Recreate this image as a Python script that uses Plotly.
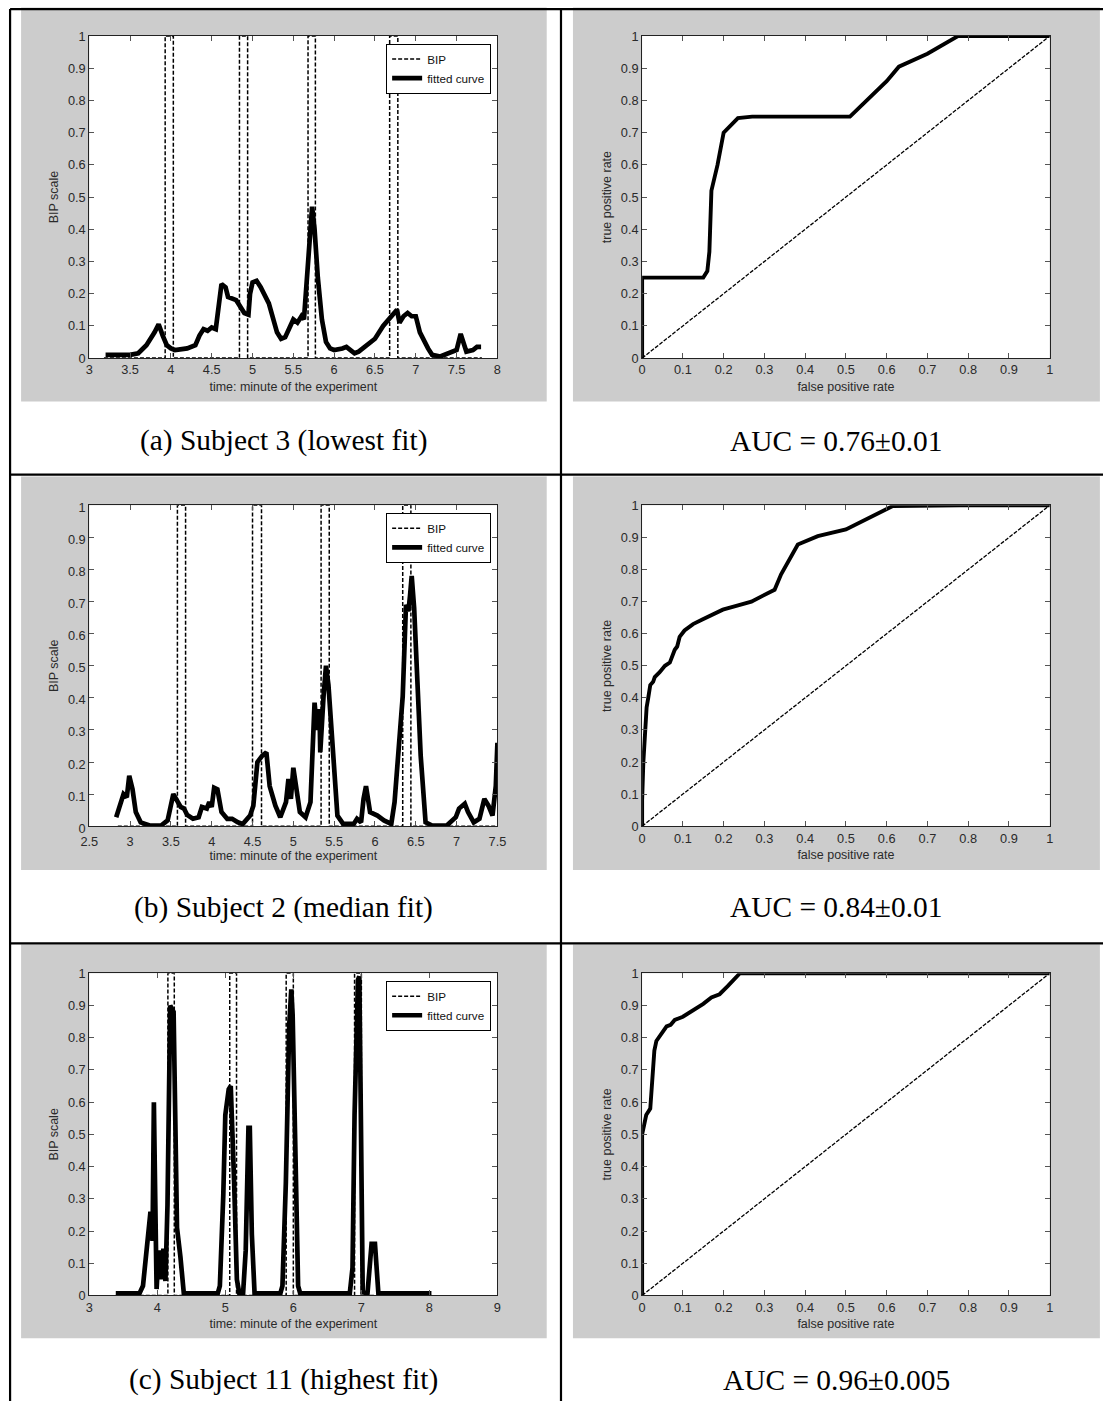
import plotly.graph_objects as go

W, H = 1112, 1410
# The page is photographed with the default 8 px body margin and a small
# downscale; SX/SY/OFF convert target page pixels into figure pixels.
OFF = 8
SX = (W + 2 * OFF) / W
SY = (H + 2 * OFF) / H

# ---------------- data ----------------
# Subject 3 (lowest fit): fitted BIP curve
s3_t = [3.2, 3.5, 3.6, 3.7, 3.8, 3.85, 3.9, 3.95, 4.0, 4.05, 4.2, 4.3, 4.35, 4.4, 4.45, 4.5,
        4.55, 4.58, 4.62, 4.67, 4.7, 4.8, 4.85, 4.9, 4.95, 4.97, 5.0, 5.05, 5.1, 5.2, 5.3,
        5.35, 5.4, 5.45, 5.5, 5.55, 5.6, 5.63, 5.7, 5.73, 5.76, 5.8, 5.85, 5.9, 5.95, 6.0,
        6.1, 6.15, 6.2, 6.25, 6.3, 6.4, 6.5, 6.6, 6.7, 6.77, 6.8, 6.85, 6.9, 6.95, 7.0,
        7.05, 7.15, 7.2, 7.3, 7.4, 7.5, 7.55, 7.58, 7.62, 7.7, 7.75, 7.8]
s3_fit = [0.01, 0.01, 0.015, 0.04, 0.08, 0.105, 0.07, 0.04, 0.03, 0.025, 0.03, 0.04, 0.07, 0.09,
          0.085, 0.095, 0.09, 0.15, 0.23, 0.22, 0.19, 0.18, 0.16, 0.14, 0.135, 0.2, 0.235, 0.24,
          0.22, 0.17, 0.08, 0.06, 0.065, 0.09, 0.12, 0.11, 0.13, 0.12, 0.35, 0.47, 0.40, 0.25,
          0.12, 0.05, 0.03, 0.025, 0.03, 0.035, 0.025, 0.015, 0.02, 0.04, 0.06, 0.10, 0.13,
          0.15, 0.11, 0.13, 0.14, 0.13, 0.13, 0.08, 0.03, 0.01, 0.005, 0.015, 0.025, 0.075,
          0.05, 0.02, 0.025, 0.035, 0.035]
s3_bip_span = [3.18, 7.81]
s3_bip_on = [3.93, 4.84, 5.68, 6.68]
s3_bip_off = [4.03, 4.94, 5.77, 6.78]

# Subject 2 (median fit)
s2_t = [2.83, 2.87, 2.92, 2.96, 2.99, 3.03, 3.07, 3.13, 3.24, 3.38, 3.46, 3.53, 3.57, 3.62,
        3.66, 3.70, 3.77, 3.84, 3.88, 3.94, 3.97, 4.0, 4.03, 4.07, 4.12, 4.19, 4.25, 4.32,
        4.38, 4.47, 4.51, 4.56, 4.62, 4.67, 4.71, 4.78, 4.84, 4.91, 4.94, 4.97, 5.0, 5.04,
        5.08, 5.15, 5.21, 5.26, 5.29, 5.32, 5.33, 5.37, 5.40, 5.43, 5.5, 5.54, 5.61, 5.74,
        5.78, 5.83, 5.86, 5.89, 5.94, 6.03, 6.11, 6.2, 6.24, 6.30, 6.34, 6.38, 6.41, 6.43,
        6.45, 6.48, 6.52, 6.56, 6.62, 6.7, 6.88, 6.94, 6.99, 7.03, 7.1, 7.14, 7.21, 7.28,
        7.34, 7.39, 7.44, 7.48, 7.5]
s2_fit = [0.028, 0.064, 0.1, 0.09, 0.157, 0.115, 0.044, 0.012, 0.002, 0.002, 0.018, 0.1,
          0.085, 0.06, 0.055, 0.035, 0.023, 0.028, 0.06, 0.055, 0.075, 0.06, 0.12, 0.115,
          0.044, 0.023, 0.023, 0.012, 0.007, 0.033, 0.064, 0.2, 0.22, 0.23, 0.125, 0.064,
          0.028, 0.075, 0.147, 0.085, 0.182, 0.115, 0.044, 0.028, 0.075, 0.385, 0.3, 0.365,
          0.23, 0.405, 0.5, 0.44, 0.18, 0.033, 0.007, 0.007, 0.023, 0.012, 0.085, 0.125,
          0.044, 0.033, 0.018, 0.007, 0.075, 0.26, 0.405, 0.69, 0.67, 0.72, 0.78, 0.68, 0.47,
          0.22, 0.012, 0.002, 0.002, 0.018, 0.028, 0.055, 0.07, 0.044, 0.012, 0.023, 0.085,
          0.064, 0.033, 0.125, 0.26]
s2_bip_span = [2.85, 7.5]
s2_bip_on = [3.58, 4.50, 5.34, 6.34]
s2_bip_off = [3.68, 4.61, 5.44, 6.44]

# Subject 11 (highest fit)
s11_t = [3.39, 3.74, 3.79, 3.84, 3.87, 3.9, 3.93, 3.95, 3.97, 3.99, 4.02, 4.06, 4.09, 4.12,
         4.15, 4.17, 4.19, 4.24, 4.26, 4.29, 4.34, 4.39, 4.89, 4.92, 4.97, 5.0, 5.05, 5.08,
         5.13, 5.17, 5.21, 5.26, 5.3, 5.34, 5.36, 5.39, 5.43, 5.81, 5.84, 5.89, 5.94, 5.97,
         5.99, 6.03, 6.07, 6.1, 6.83, 6.87, 6.9, 6.95, 6.97, 6.99, 7.02, 7.09, 7.15, 7.2,
         7.25, 8.03]
s11_fit = [0.007, 0.007, 0.03, 0.14, 0.2, 0.26, 0.17, 0.6, 0.3, 0.02, 0.14, 0.05, 0.145,
           0.045, 0.28, 0.66, 0.9, 0.88, 0.56, 0.21, 0.12, 0.007, 0.007, 0.03, 0.31, 0.56,
           0.64, 0.65, 0.35, 0.05, 0.002, 0.002, 0.14, 0.52, 0.52, 0.19, 0.007, 0.007, 0.03,
           0.35, 0.84, 0.95, 0.87, 0.45, 0.03, 0.007, 0.007, 0.086, 0.56, 0.98, 0.99, 0.61,
           0.01, 0.007, 0.16, 0.16, 0.007, 0.007]
s11_bip_span = [3.39, 8.03]
s11_bip_on = [4.156, 5.065, 5.895, 6.9]
s11_bip_off = [4.25, 5.165, 6.0, 7.0]

# ROC curves
roc3_fpr = [0, 0, 0.15, 0.16, 0.165, 0.17, 0.185, 0.2, 0.235, 0.27, 0.51, 0.535, 0.56, 0.6,
            0.63, 0.7, 0.775, 1.0]
roc3_tpr = [0, 0.25, 0.25, 0.27, 0.33, 0.52, 0.6, 0.7, 0.745, 0.75, 0.75, 0.78, 0.81, 0.86,
            0.905, 0.945, 1.0, 1.0]
roc2_fpr = [0, 0, 0.003, 0.0065, 0.011, 0.015, 0.02, 0.027, 0.031, 0.043, 0.056, 0.068, 0.08,
            0.086, 0.092, 0.104, 0.125, 0.149, 0.198, 0.231, 0.268, 0.325, 0.341, 0.382,
            0.431, 0.5, 0.549, 0.615, 0.78, 1.0]
roc2_tpr = [0, 0.08, 0.2, 0.29, 0.37, 0.4, 0.44, 0.45, 0.465, 0.48, 0.5, 0.51, 0.55, 0.56,
            0.59, 0.61, 0.63, 0.645, 0.675, 0.687, 0.70, 0.737, 0.785, 0.878, 0.904, 0.925,
            0.956, 0.998, 1.0, 1.0]
roc11_fpr = [0, 0, 0.005, 0.01, 0.02, 0.025, 0.03, 0.035, 0.045, 0.06, 0.07, 0.08, 0.1, 0.12,
             0.15, 0.17, 0.19, 0.21, 0.23, 0.24, 1.0]
roc11_tpr = [0, 0.5, 0.53, 0.56, 0.58, 0.66, 0.76, 0.79, 0.81, 0.835, 0.84, 0.855, 0.865,
             0.88, 0.905, 0.925, 0.935, 0.96, 0.985, 1.0, 1.0]
chance = [0, 1]

captions_left = ["(a) Subject 3 (lowest fit)", "(b) Subject 2 (median fit)",
                 "(c) Subject 11 (highest fit)"]
captions_right = ["AUC = 0.76\u00b10.01", "AUC = 0.84\u00b10.01", "AUC = 0.96\u00b10.005"]
time_ranges = [[3, 8], [2.5, 7.5], [3, 9]]
time_dticks = [0.5, 0.5, 1]


def bip_steps(span, onsets, offsets):
    """Rectangular BIP indicator (0 outside intervals, 1 inside)."""
    xs, ys = [span[0]], [0]
    for a, b in zip(onsets, offsets):
        xs += [a, a, b, b]
        ys += [0, 1, 1, 0]
    xs.append(span[1])
    ys.append(0)
    return xs, ys


def axid(letter, n):
    """Plotly axis id: 'x', 'x2', ..."""
    return letter if n == 1 else f"{letter}{n}"


subjects = [
    (s3_t, s3_fit, s3_bip_span, s3_bip_on, s3_bip_off, roc3_fpr, roc3_tpr),
    (s2_t, s2_fit, s2_bip_span, s2_bip_on, s2_bip_off, roc2_fpr, roc2_tpr),
    (s11_t, s11_fit, s11_bip_span, s11_bip_on, s11_bip_off, roc11_fpr, roc11_tpr),
]

# ---------------- layout geometry (page pixels) ----------------
left_plot = (88.3, 497.3)
right_plot = (642.3, 1050.7)
row_plot = [(36.0, 358.3), (505.7, 826.8), (974.0, 1296.5)]
left_panel = (20.0, 546.7)
right_panel = (573.0, 1101.0)
row_panel = [(7.3, 401.7), (476.7, 870.7), (945.3, 1339.3)]
caption_y = [441.0, 908.0, 1381.0]


def px(x):
    return (x * SX - OFF) / W


def py(y):
    return 1 - (y * SY - OFF) / H


def fs(size):
    return round(size * SX, 2)


fig = go.Figure()
layout = dict(
    width=W, height=H, margin=dict(l=0, r=0, t=0, b=0),
    paper_bgcolor="white", plot_bgcolor="white", showlegend=True,
)
shapes = []
annotations = []

sans = "Liberation Sans, Arial, sans-serif"
tick_font = dict(family=sans, size=fs(12.6), color="#2a2a2a")
title_font = dict(family=sans, size=fs(12.3), color="#2a2a2a")
ax_common = dict(
    showline=True, linecolor="#222222", linewidth=1, mirror="ticks",
    ticks="inside", ticklen=5, tickcolor="#555555", tickwidth=1,
    showgrid=False, zeroline=False, tickfont=tick_font, fixedrange=True,
)

legend_names = ["legend", "legend2", "legend3"]

for r, (t, fit, span, on, off, fpr, tpr) in enumerate(subjects):
    nl, nr = 2 * r + 1, 2 * r + 2
    xl, yl = axid("x", nl), axid("y", nl)
    xr, yr = axid("x", nr), axid("y", nr)
    top, bot = row_plot[r]
    leg = legend_names[r]

    # left: BIP and fitted curve over time
    bx, by = bip_steps(span, on, off)
    fig.add_trace(go.Scatter(
        x=bx, y=by, mode="lines", name="BIP", legend=leg,
        line=dict(color="black", width=1.5, dash="4px,2px"),
        xaxis=xl, yaxis=yl,
    ))
    fig.add_trace(go.Scatter(
        x=t, y=fit, mode="lines", name="fitted curve", legend=leg,
        line=dict(color="black", width=4.7),
        xaxis=xl, yaxis=yl,
    ))
    # right: ROC curve and chance diagonal
    fig.add_trace(go.Scatter(
        x=chance, y=chance, mode="lines", showlegend=False,
        line=dict(color="black", width=1.3, dash="4px,1.5px"),
        xaxis=xr, yaxis=yr,
    ))
    fig.add_trace(go.Scatter(
        x=fpr, y=tpr, mode="lines", showlegend=False,
        line=dict(color="black", width=3.9),
        xaxis=xr, yaxis=yr,
    ))

    ydom = [py(bot), py(top)]
    lo, hi = time_ranges[r]
    # a half-tick start value ("2.5") sits right under the "0" label: nudge both apart
    crowded = lo != int(lo)
    layout["xaxis" + ("" if nl == 1 else str(nl))] = dict(
        ax_common, domain=[px(left_plot[0]), px(left_plot[1])], range=[lo, hi],
        tick0=lo, dtick=time_dticks[r], anchor=yl,
        ticklabelstandoff=3 if crowded else 0,
        title=dict(text="time: minute of the experiment", font=title_font,
                   standoff=2 if crowded else 5),
    )
    layout["yaxis" + ("" if nl == 1 else str(nl))] = dict(
        ax_common, domain=ydom, range=[0, 1], tick0=0, dtick=0.1, anchor=xl,
        ticklabelshift=2 if crowded else 0,
        title=dict(text="BIP scale", font=title_font, standoff=6),
    )
    layout[f"xaxis{nr}"] = dict(
        ax_common, domain=[px(right_plot[0]), px(right_plot[1])], range=[0, 1],
        tick0=0, dtick=0.1, anchor=yr,
        title=dict(text="false positive rate", font=title_font, standoff=5),
    )
    layout[f"yaxis{nr}"] = dict(
        ax_common, domain=ydom, range=[0, 1], tick0=0, dtick=0.1, anchor=xr,
        title=dict(text="true positive rate", font=title_font, standoff=6),
    )

    layout[leg] = dict(
        x=px(491), y=py(top + 7.5), xanchor="right", yanchor="top",
        bgcolor="white", bordercolor="black", borderwidth=1,
        font=dict(family=sans, size=fs(11.5), color="#111111"),
        tracegroupgap=0, itemwidth=30,
    )

    # grey figure panels
    for (x0, x1) in (left_panel, right_panel):
        y0, y1 = row_panel[r]
        shapes.append(dict(
            type="rect", xref="paper", yref="paper", layer="below",
            x0=px(x0), x1=px(x1), y0=py(y1), y1=py(y0),
            fillcolor="#cccccc", line=dict(width=0),
        ))
    # white axes backgrounds
    for xa, ya in ((xl, yl), (xr, yr)):
        shapes.append(dict(
            type="rect", xref=f"{xa} domain", yref=f"{ya} domain", layer="below",
            x0=0, x1=1, y0=0, y1=1, fillcolor="white", line=dict(width=0),
        ))

    # captions
    cap_font = dict(family="Liberation Serif, Times New Roman, serif", size=fs(29),
                    color="black")
    annotations.append(dict(
        text=captions_left[r], xref="paper", yref="paper", showarrow=False,
        x=px((left_panel[0] + left_panel[1]) / 2), y=py(caption_y[r]),
        xanchor="center", yanchor="middle", font=cap_font,
    ))
    annotations.append(dict(
        text=captions_right[r], xref="paper", yref="paper", showarrow=False,
        x=px((right_panel[0] + right_panel[1]) / 2), y=py(caption_y[r]),
        xanchor="center", yanchor="middle", font=cap_font,
    ))

# table rules; the outer ones sit at the figure's own edge
rule = dict(color="black", width=2.2)
ex, ey = 1.1 / W, 1 - 1.1 / H
shapes.append(dict(type="line", xref="paper", yref="paper",
                   x0=ex, x1=ex, y0=0, y1=ey, line=rule))
shapes.append(dict(type="line", xref="paper", yref="paper",
                   x0=px(561), x1=px(561), y0=0, y1=ey, line=rule))
shapes.append(dict(type="line", xref="paper", yref="paper",
                   x0=ex, x1=1, y0=ey, y1=ey, line=rule))
for yline in (475, 944):
    shapes.append(dict(type="line", xref="paper", yref="paper",
                       x0=ex, x1=1, y0=py(yline), y1=py(yline), line=rule))

layout["shapes"] = shapes
layout["annotations"] = annotations
fig.update_layout(**layout)

fig.write_html("out.html")
